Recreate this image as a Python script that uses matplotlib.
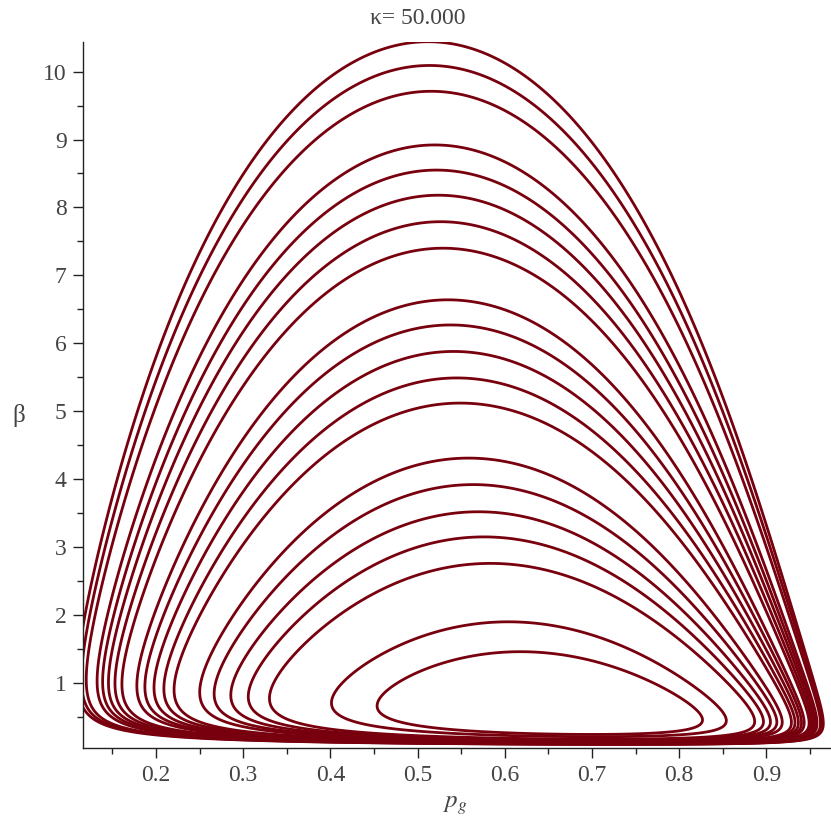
import numpy as np
import matplotlib
matplotlib.use('Agg')
import matplotlib.pyplot as plt
from matplotlib.ticker import MultipleLocator

# beta at the top of each closed orbit (outermost first)
peaks = [10.44, 10.09, 9.71, 8.92, 8.55, 8.18, 7.79, 7.40, 6.64, 6.27, 5.88, 5.49, 5.12,
         4.31, 3.92, 3.52, 3.15, 2.76, 1.90, 1.46]
title = "\u03ba= 50.000"
x_label = "$p_g$"
y_label = "\u03b2"
x_range = (0.1166, 0.973)
y_range = (0.038, 10.44)

# constants of the conserved quantity whose level sets are the orbits (fitted to the chart)
kA, kB, wall_lo, wall_hi = 13.72766, 17.85987, -0.02875, 1.01243
ks, kr, kg, ke, kd, ke2 = 3.90068, 1.76502, 7.78077, -22.70823, -0.24836, -3.18484


def H(p, b):
    return (-kA * np.log(p - wall_lo) - kB * np.log(wall_hi - p) + ke * p + ke2 * p * p
            + b + ks / b + kr * np.log(b) + kg * p * np.log(b) + kd * p * b)


plt.rcParams['font.family'] = ['Liberation Serif', 'DejaVu Serif']
plt.rcParams['mathtext.fontset'] = 'stix'

fig = plt.figure(figsize=(8.31, 8.22), dpi=100)
ax = fig.add_axes([83.3 / 831, (822 - 748.3) / 822, (830 - 83.3) / 831, (748.3 - 41.7) / 822])

u = np.linspace(-12, 10, 1600)
pg = wall_lo + (wall_hi - wall_lo) / (1 + np.exp(-u))
bg = np.exp(np.linspace(np.log(0.005), np.log(14), 1600))
P, Bm = np.meshgrid(pg, bg)
Z = H(P, Bm)
pf = np.linspace(wall_lo + 1e-4, wall_hi - 1e-4, 20000)
levels = sorted(np.min(H(pf, pb)) for pb in peaks)
ax.contour(pg, bg, Z, levels=levels, colors='#78000e', linewidths=2.0, linestyles='solid')

ax.set_xlim(*x_range)
ax.set_ylim(*y_range)
for side in ('top', 'right'):
    ax.spines[side].set_visible(False)
for side in ('left', 'bottom'):
    ax.spines[side].set_linewidth(1.0)
    ax.spines[side].set_color('#222222')
ax.xaxis.set_major_locator(MultipleLocator(0.1))
ax.xaxis.set_minor_locator(MultipleLocator(0.05))
ax.yaxis.set_major_locator(MultipleLocator(1))
ax.yaxis.set_minor_locator(MultipleLocator(0.5))
ax.tick_params(which='major', direction='out', length=7, width=1, colors='#222222',
               labelcolor='#444444', labelsize=17, pad=5)
ax.tick_params(which='minor', direction='out', length=4.5, width=1, colors='#222222')

fig.text(418 / 831, 1 - 19 / 822, title, ha='center', va='center', fontsize=17, color='#444444')
fig.text(19 / 831, 1 - 415 / 822, y_label, ha='center', va='center', fontsize=18, color='#444444')
fig.text(455 / 831, 1 - 808 / 822, x_label, ha='center', va='baseline', fontsize=18, color='#444444')

fig.savefig('out.png', dpi=100)
